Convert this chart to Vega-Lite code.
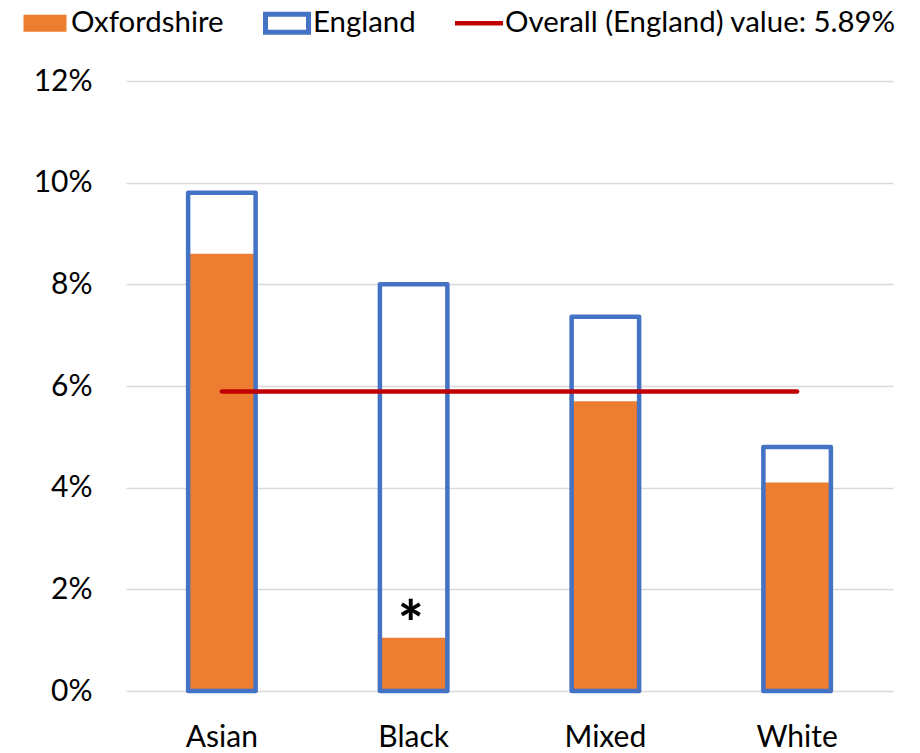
{
  "$schema": "https://vega.github.io/schema/vega-lite/v6.json",
  "width": 767,
  "height": 610,
  "autosize": "none",
  "padding": {"left": 126, "top": 81, "right": 27, "bottom": 62},
  "background": "white",
  "config": {
    "view": {"stroke": null},
    "font": "Lato",
    "axis": {
      "labelFont": "Lato",
      "labelFontSize": 30,
      "labelColor": "#000000",
      "ticks": false,
      "domain": false,
      "title": null
    }
  },
  "data": {
    "values": [
      {"ethnicity": "Asian", "oxfordshire": 0.086, "england": 0.098, "overall": 0.0589, "note": ""},
      {"ethnicity": "Black", "oxfordshire": 0.0105, "england": 0.08, "overall": 0.0589, "note": "*"},
      {"ethnicity": "Mixed", "oxfordshire": 0.057, "england": 0.0736, "overall": 0.0589, "note": ""},
      {"ethnicity": "White", "oxfordshire": 0.041, "england": 0.048, "overall": 0.0589, "note": ""}
    ]
  },
  "encoding": {
    "x": {
      "field": "ethnicity",
      "type": "nominal",
      "sort": null,
      "scale": {"paddingInner": 0, "paddingOuter": 0},
      "axis": {"labelAngle": 0, "labelPadding": 31, "grid": false}
    }
  },
  "layer": [
    {
      "mark": {"type": "bar", "width": {"band": 0.352}},
      "encoding": {
        "y": {
          "field": "oxfordshire",
          "type": "quantitative",
          "scale": {"domain": [0, 0.12], "nice": false},
          "axis": {
            "values": [0, 0.02, 0.04, 0.06, 0.08, 0.1, 0.12],
            "format": ".0%",
            "labelPadding": 34,
            "grid": true,
            "gridColor": "#D9D9D9",
            "gridWidth": 1.5
          }
        },
        "color": {
          "datum": "Oxfordshire",
          "type": "nominal",
          "scale": {
            "domain": ["Oxfordshire", "England", "Overall (England) value: 5.89%"],
            "range": ["#ED7D31", "#4472C4", "#C00000"]
          },
          "legend": {
            "title": null,
            "orient": "none",
            "direction": "horizontal",
            "legendX": -105,
            "legendY": -82,
            "padding": 0,
            "columnPadding": 39,
            "labelOffset": 2,
            "labelFont": "Lato",
            "labelFontSize": 29.4,
            "labelColor": "#000000",
            "labelLimit": 500,
            "symbolSize": 2304,
            "symbolStrokeWidth": 0,
            "symbolOpacity": 1,
            "symbolType": "M-1,-0.4H1V0.4H-1Z",
            "encode": {
              "symbols": {
                "update": {
                  "shape": {"signal": "datum.value === 'Oxfordshire' ? 'M-0.896,-0.354H0.896V0.354H-0.896Z' : (datum.value === 'England' ? 'M-1,-0.479H1V0.479H-1ZM-0.792,-0.271V0.271H0.792V-0.271Z' : 'M-1,-0.094H1V0.094H-1Z')"}
                }
              }
            }
          }
        }
      }
    },
    {
      "mark": {"type": "bar", "width": {"band": 0.352}, "filled": false, "strokeWidth": 4.5, "strokeJoin": "round", "fill": null},
      "encoding": {
        "y": {"field": "england", "type": "quantitative"},
        "color": {"datum": "England", "type": "nominal"}
      }
    },
    {
      "mark": {"type": "line", "strokeWidth": 4.5, "strokeCap": "round"},
      "encoding": {
        "y": {"field": "overall", "type": "quantitative"},
        "color": {"datum": "Overall (England) value: 5.89%", "type": "nominal"}
      }
    },
    {
      "transform": [{"filter": "datum.note !== ''"}],
      "mark": {"type": "text", "font": "Lato", "fontWeight": 900, "fontSize": 60, "baseline": "alphabetic", "dy": 7, "dx": -3, "color": "#000000"},
      "encoding": {
        "y": {"field": "oxfordshire", "type": "quantitative"},
        "text": {"field": "note"}
      }
    }
  ]
}
